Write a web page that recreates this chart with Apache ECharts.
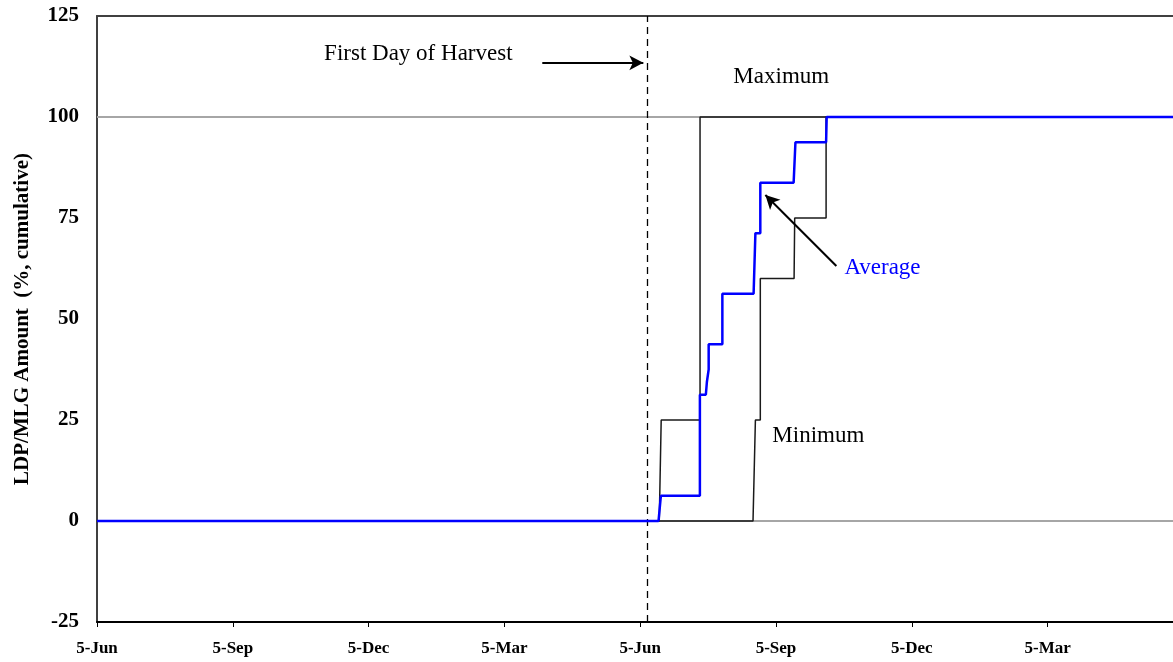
<!DOCTYPE html>
<html>
<head>
<meta charset="utf-8">
<script src="https://cdn.jsdelivr.net/npm/echarts@6/dist/echarts.min.js"></script>
<style>
html,body{margin:0;padding:0;background:#fff;}
#chart{width:1173px;height:662px;}
</style>
</head>
<body>
<div id="chart"></div>
<script>
// x values are days counted from the first "5-Jun" tick
const tickLabels = ['5-Jun', '5-Sep', '5-Dec', '5-Mar', '5-Jun', '5-Sep', '5-Dec', '5-Mar'];
const tickDays = 91.25;
const xMaxDay = 723;

const maximumSeries = [[0,0],[377.8,0],[379.1,25],[405.2,25],[405.2,100],[723,100]];
const minimumSeries = [[0,0],[440.8,0],[442.4,25],[445.7,25],[445.7,60],[468.4,60],[468.8,75],[489.9,75],[489.9,100],[723,100]];
const averageSeries = [[0,0],[377.3,0],[378.9,6.25],[405.1,6.25],[405.1,31.25],[409.1,31.25],[409.8,34.4],[411,37.5],[411,43.75],[420.2,43.75],[420.2,56.25],[441.2,56.25],[442.4,71.25],[445.7,71.25],[445.7,83.75],[468.1,83.75],[469.3,93.75],[489.9,93.75],[490.3,100],[723,100]];

const referenceLevels = [0, 100];
const harvestDay = 370;

const annotations = [
  {text: 'First Day of Harvest', day: 152.6, value: 115.6, color: '#000000'},
  {text: 'Maximum', day: 427.6, value: 109.9, color: '#000000'},
  {text: 'Average', day: 502.2, value: 62.6, color: '#0000ff'},
  {text: 'Minimum', day: 453.8, value: 21.0, color: '#000000'}
];
const arrows = [
  {from: [299.2, 113.4], to: [367.1, 113.4]},
  {from: [496.8, 63.1], to: [449.1, 80.7]}
];

const serif = "'Liberation Serif', 'Times New Roman', serif";
const chart = echarts.init(document.getElementById('chart'), null, {renderer: 'canvas'});

const option = {
  animation: false,
  backgroundColor: '#ffffff',
  grid: {left: 97, top: 16, right: 0, bottom: 40, show: false},
  xAxis: [{
    type: 'value', min: 0, max: xMaxDay, interval: tickDays, position: 'bottom',
    axisLine: {show: true, onZero: false, lineStyle: {color: '#000', width: 2}},
    axisTick: {show: true, length: 5, lineStyle: {color: '#000', width: 1}},
    splitLine: {show: false},
    axisLabel: {
      margin: 18, color: '#000', fontFamily: serif, fontWeight: 'bold', fontSize: 17,
      showMaxLabel: false,
      formatter: function (v) {
        const i = Math.round(v / tickDays);
        if (Math.abs(v - i * tickDays) < 0.01 && i < tickLabels.length) return tickLabels[i];
        return '';
      }
    }
  }, {
    type: 'value', min: 0, max: xMaxDay, position: 'top',
    axisLine: {show: true, onZero: false, lineStyle: {color: '#404040', width: 2}},
    axisTick: {show: false}, axisLabel: {show: false}, splitLine: {show: false}
  }],
  yAxis: {
    type: 'value', min: -25, max: 125, interval: 25,
    name: 'LDP/MLG Amount  (%, cumulative)', nameLocation: 'middle', nameGap: 64,
    nameTextStyle: {fontFamily: serif, fontWeight: 'bold', fontSize: 21, color: '#000'},
    axisLine: {show: true, onZero: false, lineStyle: {color: '#404040', width: 2}},
    axisTick: {show: false},
    splitLine: {show: false},
    axisLabel: {margin: 18, color: '#000', fontFamily: serif, fontWeight: 'bold', fontSize: 21}
  },
  series: [
    {
      name: 'reference', type: 'line', data: [], z: 1, silent: true,
      markLine: {
        silent: true, z: 1, symbol: ['none', 'none'], label: {show: false},
        data: referenceLevels.map(v => ({yAxis: v, lineStyle: {color: '#a6a6a6', width: 2, type: 'solid'}}))
          .concat([{xAxis: harvestDay, lineStyle: {color: '#000', width: 1.3, type: [7, 5]}}])
      }
    },
    {
      name: 'Maximum', type: 'line', data: maximumSeries, showSymbol: false, z: 3,
      lineStyle: {color: '#1a1a1a', width: 1.5}
    },
    {
      name: 'Minimum', type: 'line', data: minimumSeries, showSymbol: false, z: 3,
      lineStyle: {color: '#1a1a1a', width: 1.5}
    },
    {
      name: 'Average', type: 'line', data: averageSeries, showSymbol: false, z: 4,
      lineStyle: {color: '#0000ff', width: 2.5}
    },
    {
      name: 'arrows', type: 'line', data: [], z: 5, silent: true,
      markLine: {
        silent: true, z: 5, symbol: ['none', 'arrow'], symbolSize: [11, 14], label: {show: false},
        lineStyle: {color: '#000', width: 2, type: 'solid'},
        data: arrows.map(a => [{coord: a.from}, {coord: a.to}])
      }
    }
  ]
};
chart.setOption(option);

const graphics = annotations.map(a => {
  const p = chart.convertToPixel({gridIndex: 0}, [a.day, a.value]);
  return {
    type: 'text', left: p[0], top: p[1] - 12, silent: true, z: 10,
    style: {text: a.text, fill: a.color, font: '23px ' + serif, textVerticalAlign: 'top'}
  };
});
chart.setOption({graphic: graphics});
</script>
</body>
</html>
